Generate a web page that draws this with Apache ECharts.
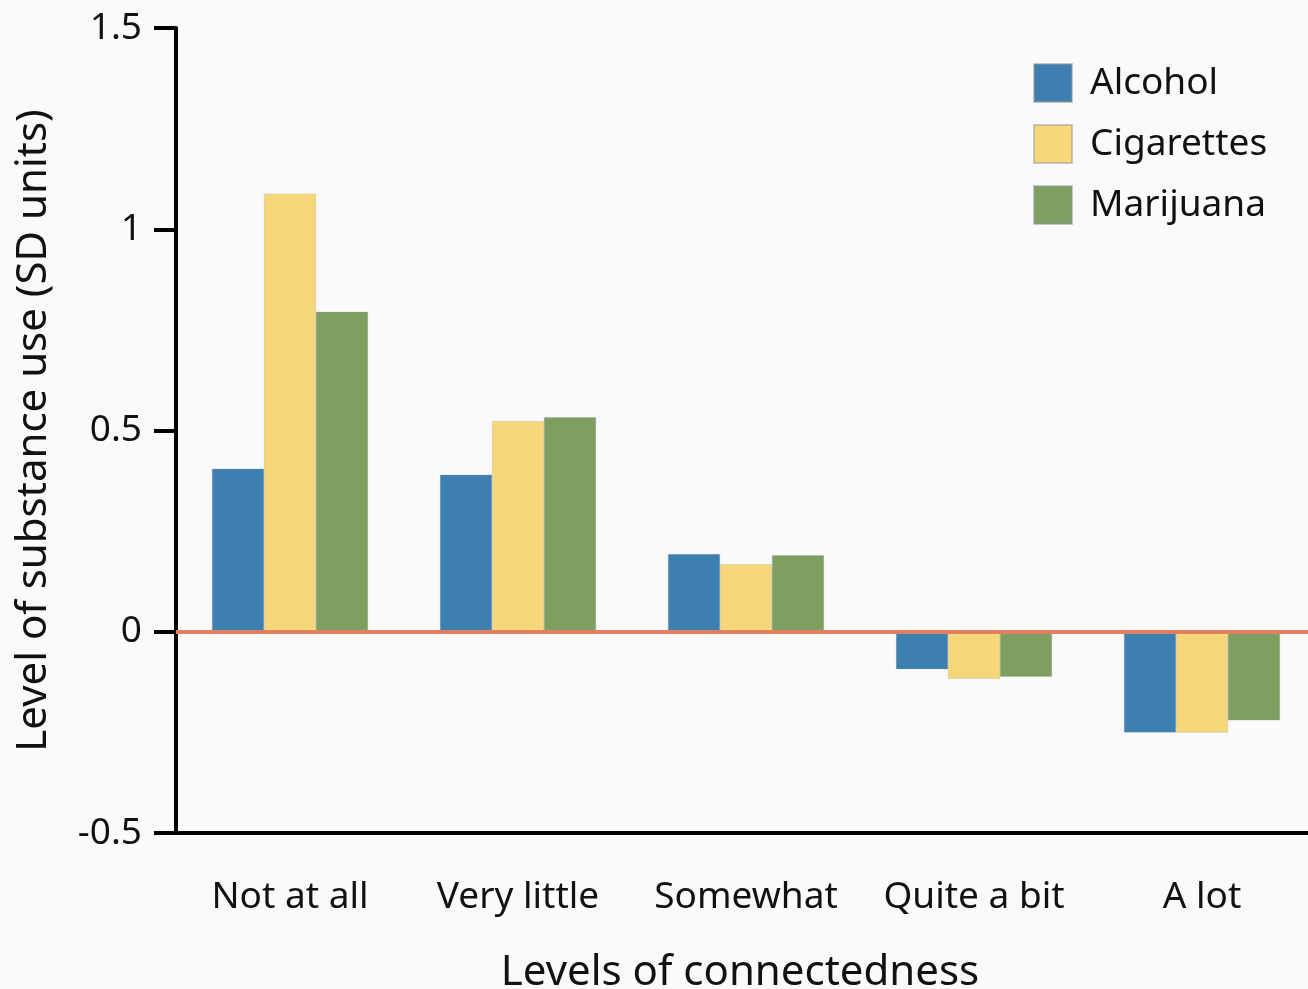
<!DOCTYPE html>
<html>
<head>
<meta charset="utf-8">
<script src="https://cdn.jsdelivr.net/npm/echarts@6/dist/echarts.min.js"></script>
<style>
html,body{margin:0;padding:0;background:#fafafa;overflow:hidden;}
#c{width:1308px;height:989px;}
</style>
</head>
<body>
<div id="c"></div>
<script>
const categories = ['Not at all', 'Very little', 'Somewhat', 'Quite a bit', 'A lot'];
const alcohol = [0.405, 0.39, 0.193, -0.093, -0.25];
const cigarettes = [1.088, 0.523, 0.168, -0.117, -0.25];
const marijuana = [0.795, 0.533, 0.19, -0.112, -0.22];
const yTicks = [-0.5, 0, 0.5, 1, 1.5];

const FONT = 'Noto Sans';
const chart = echarts.init(document.getElementById('c'), null, {renderer: 'canvas'});
const barBorder = {borderColor: 'rgba(150,150,150,0.5)', borderWidth: 0.5};
chart.setOption({
  backgroundColor: '#fafafa',
  animation: false,
  textStyle: {fontFamily: FONT, color: '#111'},
  legend: {
    orient: 'vertical',
    left: 1033,
    top: 63,
    padding: 0,
    itemWidth: 38,
    itemHeight: 38,
    itemGap: 21,
    icon: 'rect',
    textStyle: {fontSize: 37, color: '#111', fontFamily: FONT, padding: [0, 0, 0, 13]},
    data: ['Alcohol', 'Cigarettes', 'Marijuana']
  },
  grid: {left: 176, top: 28, height: 805, width: 1140, containLabel: false, outerBoundsMode: 'none'},
  xAxis: {
    type: 'category',
    data: categories,
    name: 'Levels of connectedness',
    nameLocation: 'middle',
    nameGap: 119,
    nameTextStyle: {fontSize: 42, color: '#111', fontFamily: FONT, padding: [0, 12, 0, 0]},
    axisLine: {onZero: false, lineStyle: {color: '#000', width: 4}},
    axisTick: {show: false},
    axisLabel: {fontSize: 37, color: '#111', margin: 46, fontFamily: FONT, interval: 0},
    splitLine: {show: false}
  },
  yAxis: {
    type: 'value',
    min: -0.5,
    max: 1.5,
    interval: 0.5,
    name: 'Level of substance use (SD units)',
    nameLocation: 'middle',
    nameGap: 121,
    nameRotate: 90,
    nameTextStyle: {fontSize: 42, color: '#111', fontFamily: FONT},
    axisLine: {show: true, lineStyle: {color: '#000', width: 4}},
    axisTick: {show: true, inside: false, length: 22, lineStyle: {color: '#000', width: 4}},
    axisLabel: {fontSize: 37, color: '#111', margin: 34, fontFamily: FONT,
      formatter: v => yTicks.includes(v) ? String(v) : ''},
    splitLine: {show: false}
  },
  series: [
    {name: 'Alcohol', type: 'bar', data: alcohol, barWidth: 52, barGap: '0%',
     itemStyle: Object.assign({color: '#3d7fb0'}, barBorder),
     markLine: {silent: true, symbol: 'none', label: {show: false},
       lineStyle: {color: '#e0805f', width: 4, type: 'solid'},
       data: [{yAxis: 0}]}},
    {name: 'Cigarettes', type: 'bar', data: cigarettes, barWidth: 52, barGap: '0%',
     itemStyle: Object.assign({color: '#f6d87a'}, barBorder)},
    {name: 'Marijuana', type: 'bar', data: marijuana, barWidth: 52, barGap: '0%',
     itemStyle: Object.assign({color: '#7da062'}, barBorder)}
  ]
});
</script>
</body>
</html>
